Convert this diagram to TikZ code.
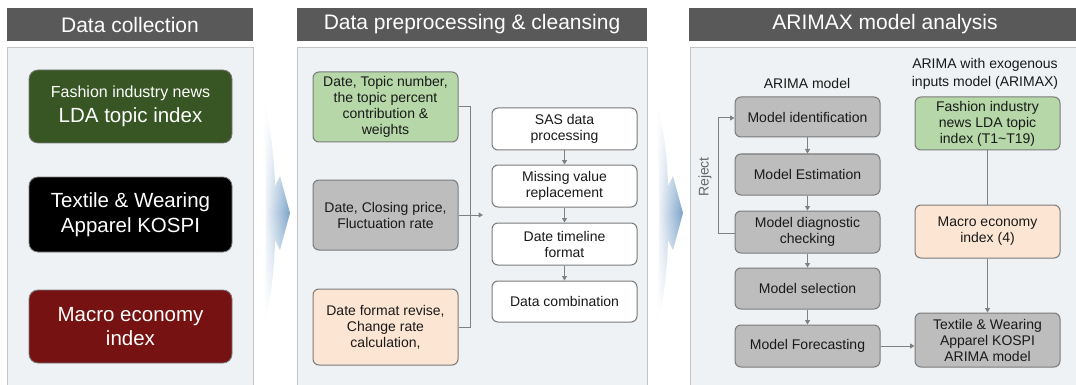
\documentclass[tikz,border=0pt]{standalone}
\usepackage{fontspec}
\setmainfont{Liberation Sans}
\usetikzlibrary{arrows.meta,fadings}
\definecolor{hdr}{HTML}{595959}
\definecolor{panelfill}{HTML}{EFF2F5}
\definecolor{panelline}{HTML}{C4C4C4}
\definecolor{dkgreen}{HTML}{375623}
\definecolor{dkred}{HTML}{761212}
\definecolor{ltgreen}{HTML}{B6D7A8}
\definecolor{ltgray}{HTML}{BDBDBD}
\definecolor{peach}{HTML}{FCE5D2}
\definecolor{boxline}{HTML}{7A7A7A}
\definecolor{arrgray}{HTML}{808080}
\definecolor{chev}{HTML}{7AA2C8}
\tikzfading[name=vfade, top color=transparent!100, bottom color=transparent!100, middle color=transparent!0]
\begin{document}
\begin{tikzpicture}[x=1pt,y=-1pt,
  hdrbox/.style={fill=hdr, text=white, font=\fontsize{21}{25}\selectfont, inner sep=0pt, minimum height=33pt},
  panel/.style={fill=panelfill, draw=panelline, line width=1.2pt, inner sep=0pt},
  bigbox/.style={rounded corners=9pt, draw=boxline, line width=0.8pt, minimum width=203pt, minimum height=73pt, text=white, align=center, inner sep=0pt, font=\fontsize{20.5}{24.5}\selectfont},
  box/.style={rounded corners=6pt, draw=boxline, line width=1pt, align=center, inner sep=0pt, minimum width=145pt, text=black!90, font=\fontsize{14}{16}\selectfont},
  arr/.style={-{Triangle[width=5pt,length=4.5pt]}, draw=arrgray, line width=1pt},
  ln/.style={draw=arrgray, line width=1pt},
  lbl/.style={align=center, inner sep=0pt, text=black!90, font=\fontsize{14}{18}\selectfont}
]
\useasboundingbox (0,0) rectangle (1076,385);
\clip (0,0) rectangle (1076,385);

% panels
\node[panel, minimum width=246pt, minimum height=350pt, anchor=north west] (p1) at (7,47) {};
\node[panel, minimum width=350pt, minimum height=350pt, anchor=north west] (p2) at (297,47) {};
\node[panel, minimum width=395pt, minimum height=350pt, anchor=north west] (p3) at (690,47) {};

% headers
\node[hdrbox, minimum width=246pt] (h1) at (130,24.5) {Data collection};
\node[hdrbox, minimum width=350pt] (h2) at (472,24.5) {Data preprocessing \& cleansing};
\node[hdrbox, minimum width=392pt] (h3) at (885,24.5) {ARIMAX model analysis};

% chevrons
\foreach \dx in {0,393}{
\shade[left color=white, right color=chev, shift={(\dx,0)}, path fading=vfade]
  (262,93) .. controls (270,122) and (274,152) .. (275,186) -- (280,176) -- (290,213) -- (280,250) -- (275,240)
  .. controls (274,276) and (270,306) .. (262,333)
  .. controls (265,290) and (266,250) .. (266,213)
  .. controls (266,176) and (265,136) .. (262,93) -- cycle;
}

% panel 1
\node[bigbox, fill=dkgreen] (c1) at (130.5,106.5) {{\fontsize{16}{19}\selectfont Fashion industry news}\\LDA topic index};
\node[bigbox, fill=black, minimum height=75pt] (c2) at (130.5,214.5) {Textile \& Wearing\\Apparel KOSPI};
\node[bigbox, fill=dkred] (c3) at (130.5,326.5) {Macro economy\\index};

% panel 2
\node[box, fill=ltgreen, minimum height=70pt] (d1) at (385.5,107) {Date, Topic number,\\the topic percent\\contribution \&\\weights};
\node[box, fill=ltgray, minimum height=70pt] (d2) at (385.5,215) {Date, Closing price,\\Fluctuation rate};
\node[box, fill=peach, minimum height=76pt] (d3) at (385.5,327) {Date format revise,\\Change rate\\calculation,};
\node[box, fill=white, minimum height=42pt] (s1) at (564.5,129) {SAS data\\processing};
\node[box, fill=white, minimum height=42pt] (s2) at (564.5,186) {Missing value\\replacement};
\node[box, fill=white, minimum height=42pt] (s3) at (564.5,244) {Date timeline\\format};
\node[box, fill=white, minimum height=41pt] (s4) at (564.5,301.5) {Data combination};

\coordinate (bt) at (470,107);
\coordinate (bb) at (470,327);
\coordinate (ba) at (483,215);
\draw[ln] (d1.east) -- (bt) -- (bb) -- (d3.east);
\draw[arr] (d2.east) -- (ba);
\draw[arr] (s1) -- (s2);
\draw[arr] (s2) -- (s3);
\draw[arr] (s3) -- (s4);

% panel 3
\node[lbl] (lA) at (807,83) {ARIMA model};
\node[lbl] (lB) at (985,74) {ARIMA with exogenous\\inputs model (ARIMAX)};
\node[box, fill=ltgray, minimum height=40pt] (m1) at (807.5,117) {Model identification};
\node[box, fill=ltgray, minimum height=41pt] (m2) at (807.5,174.5) {Model Estimation};
\node[box, fill=ltgray, minimum height=42pt] (m3) at (807.5,232) {Model diagnostic\\checking};
\node[box, fill=ltgray, minimum height=41pt] (m4) at (807.5,288.5) {Model selection};
\node[box, fill=ltgray, minimum height=42pt] (m5) at (807.5,346) {Model Forecasting};
\node[box, fill=ltgreen, minimum height=53pt] (x1) at (987.5,123.5) {Fashion industry\\news LDA topic\\index (T1\textasciitilde T19)};
\node[box, fill=peach, minimum height=53pt] (x2) at (987.5,231.5) {Macro economy\\index (4)};
\node[box, fill=ltgray, minimum height=54pt] (x3) at (987.5,340) {Textile \& Wearing\\Apparel KOSPI\\ARIMA model};

\draw[arr] (m1) -- (m2);
\draw[arr] (m2) -- (m3);
\draw[arr] (m3) -- (m4);
\draw[arr] (m4) -- (m5);
\coordinate (rb) at (718,233);
\coordinate (rt) at (718,118);
\draw[arr] (m3.west |- rb) -- (rb) -- (rt) -- (m1.west |- rt);
\node[lbl, rotate=90, text=black!60] (rej) at (705,177) {Reject};
\draw[ln] (x1) -- (x2);
\draw[arr] (x2) -- (x3);
\draw[arr] (m5) -- (x3.west |- m5);
\end{tikzpicture}
\end{document}
